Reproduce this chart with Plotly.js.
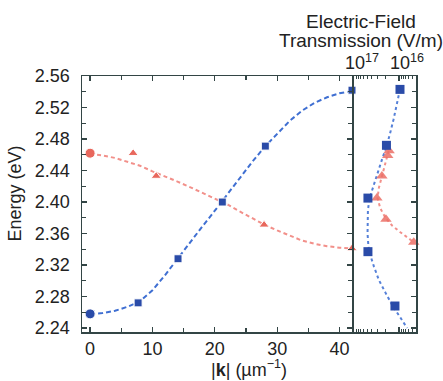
<!DOCTYPE html>
<html><head><meta charset="utf-8">
<script src="https://cdn.plot.ly/plotly-3.0.1.min.js"></script>
<style>html,body{margin:0;padding:0;background:#fff;}#chart{width:443px;height:381px;}</style>
</head><body><div id="chart"></div>
<script>
// Main panel: measured dispersion
const blueK = [0, 7.7, 14.1, 21.2, 28.1, 42];
const blueE = [2.258, 2.272, 2.328, 2.400, 2.471, 2.542];
const redK = [0, 6.9, 10.6, 21.2, 27.9, 42];
const redE = [2.462, 2.462, 2.433, 2.400, 2.371, 2.341];
// Main panel: fitted curves
const fitK = [0,2,4,6,8,10,12,14,16,18,20,22,24,26,28,30,32,34,36,38,40,42];
const blueFitE = [2.258,2.259,2.262,2.267,2.274,2.288,2.307,2.328,2.348,2.369,2.389,2.410,2.430,2.451,2.470,2.487,2.503,2.516,2.526,2.533,2.538,2.541];
const redFitE = [2.461,2.459,2.456,2.451,2.446,2.439,2.433,2.426,2.419,2.412,2.405,2.397,2.388,2.379,2.371,2.364,2.357,2.351,2.347,2.344,2.342,2.341];
// Right panel: electric-field transmission (V/m)
const blueTE = [2.543, 2.472, 2.405, 2.337, 2.268];
const blueT = [9.5e15, 1.9e16, 4.9e16, 4.9e16, 1.23e16];
const redTE = [2.465, 2.459, 2.433, 2.405, 2.378, 2.349];
const redT = [1.66e16, 1.78e16, 2.4e16, 3.1e16, 1.95e16, 4.7e15];
const blueCurveE = [2.543,2.525,2.505,2.489,2.472,2.452,2.437,2.422,2.405,2.390,2.375,2.360,2.345,2.337,2.318,2.301,2.285,2.268,2.254,2.240];
const blueCurveT = [9.5e15,1.1e16,1.32e16,1.55e16,1.86e16,2.45e16,3.0e16,3.7e16,4.5e16,4.9e16,5.0e16,5.0e16,4.8e16,4.6e16,3.6e16,2.8e16,2.0e16,1.38e16,9.5e15,6.6e15];
const redCurveE = [2.465,2.450,2.433,2.418,2.405,2.392,2.380,2.370,2.362,2.355,2.349];
const redCurveT = [1.7e16,2.0e16,2.4e16,2.8e16,3.0e16,2.6e16,2.0e16,1.41e16,9.5e15,6.6e15,4.7e15];
const tTickVals = [1e16, 1e17];
const tTickText = ['10<sup>16</sup>', '10<sup>17</sup>'];
const tMinorVals = [5e15,6e15,7e15,8e15,9e15,2e16,3e16,4e16,5e16,6e16,7e16,8e16,9e16];

const BLUE = '#2a4ba8', BLUEL = '#3f6fd2', RED = '#e8675c', REDL = '#f2908a';
const AX = '#334545';
const F = 'Liberation Sans, Arial, sans-serif';

const traces = [
  {x: fitK, y: redFitE, mode: 'lines', line: {color: REDL, width: 2, dash: '4px,3px'}, xaxis: 'x', yaxis: 'y', hoverinfo: 'skip'},
  {x: fitK, y: blueFitE, mode: 'lines', line: {color: BLUEL, width: 2, dash: '5px,3px'}, xaxis: 'x', yaxis: 'y', hoverinfo: 'skip'},
  {x: redK, y: redE, mode: 'markers', cliponaxis: false,
   marker: {symbol: ['circle','triangle-up','triangle-up','triangle-up','triangle-up','triangle-up'], size: [10,9,9,9,9,9], color: RED, opacity: 1}, xaxis: 'x', yaxis: 'y'},
  {x: blueK, y: blueE, mode: 'markers', cliponaxis: false,
   marker: {symbol: ['circle','square','square','square','square','square'], size: [10,8,8,8,8,8], color: BLUE, opacity: 1}, xaxis: 'x', yaxis: 'y'},
  {x: redCurveT, y: redCurveE, mode: 'lines', line: {color: REDL, width: 2, dash: 'dot'}, xaxis: 'x2', yaxis: 'y2'},
  {x: blueCurveT, y: blueCurveE, mode: 'lines', line: {color: '#5580d8', width: 2, dash: 'dot'}, xaxis: 'x2', yaxis: 'y2'},
  {x: redT, y: redTE, mode: 'markers', cliponaxis: false, opacity: 0.85,
   marker: {symbol: 'triangle-up', size: 10, color: '#ec6f66'}, xaxis: 'x2', yaxis: 'y2'},
  {x: blueT, y: blueTE, mode: 'markers', cliponaxis: false,
   marker: {symbol: 'square', size: 9, color: BLUE}, xaxis: 'x2', yaxis: 'y2'}
];

const layout = {
  width: 443, height: 381,
  margin: {l: 82, r: 27, t: 76, b: 49},
  paper_bgcolor: '#fff', plot_bgcolor: '#fff',
  showlegend: false,
  font: {family: F, size: 18, color: '#222'},
  xaxis: {domain: [0, 0.8084], range: [-1.3, 42], anchor: 'y',
    showline: true, linecolor: AX, linewidth: 1.5, mirror: 'ticks',
    ticks: 'inside', ticklen: 5, tickwidth: 1.3, tickcolor: AX,
    tickmode: 'array', tickvals: [0,10,20,30,40], ticktext: ['0','10','20','30','40'],
    minor: {dtick: 5, tick0: 0, ticks: 'inside', ticklen: 4, tickcolor: AX, tickwidth: 1.2},
    showgrid: false, zeroline: false, tickfont: {size: 18, color: '#222'}, ticklabelstandoff: 0},
  yaxis: {domain: [0, 1], range: [2.235, 2.56], anchor: 'x',
    showline: true, linecolor: AX, linewidth: 1.5, mirror: 'ticks',
    ticks: 'inside', ticklen: 5, tickwidth: 1.3, tickcolor: AX,
    tickmode: 'array', tickvals: [2.24,2.28,2.32,2.36,2.40,2.44,2.48,2.52,2.56],
    ticktext: ['2.24','2.28','2.32','2.36','2.40','2.44','2.48','2.52','2.56'],
    minor: {dtick: 0.02, tick0: 2.24, ticks: 'inside', ticklen: 4, tickcolor: AX, tickwidth: 1.2},
    showgrid: false, zeroline: false, tickfont: {size: 18, color: '#222'}, ticklabelstandoff: 7},
  xaxis2: {domain: [0.8114, 1], type: 'log', range: [17.022, 15.622], anchor: 'y2', side: 'top',
    showline: true, linecolor: AX, linewidth: 1.5, mirror: 'ticks',
    ticks: 'inside', ticklen: 5, tickwidth: 1.3, tickcolor: AX,
    tickmode: 'array', tickvals: tTickVals, ticktext: tTickText,
    minor: {tickmode: 'array', tickvals: tMinorVals, ticks: 'inside', ticklen: 3, tickcolor: AX, tickwidth: 1},
    showgrid: false, zeroline: false, tickfont: {size: 18, color: '#222'}, ticklabelstandoff: -2, ticklabelshift: -8},
  yaxis2: {domain: [0, 1], range: [2.235, 2.56], anchor: 'x2', side: 'right',
    showline: true, linecolor: AX, linewidth: 1.5, mirror: true,
    ticks: 'inside', ticklen: 5, tickwidth: 1.3, tickcolor: AX, showticklabels: false,
    tickmode: 'array', tickvals: [2.24,2.28,2.32,2.36,2.40,2.44,2.48,2.52,2.56],
    minor: {dtick: 0.02, tick0: 2.24, ticks: 'inside', ticklen: 4, tickcolor: AX, tickwidth: 1.2},
    showgrid: false, zeroline: false},
  annotations: [
    {text: '|<b>k</b>| (µm<sup>−1</sup>)', xref: 'paper', yref: 'paper', x: 0.5, y: -0.141,
     xanchor: 'center', yanchor: 'middle', showarrow: false, font: {size: 18, color: '#222'}},
    {text: 'Energy (eV)', xref: 'paper', yref: 'paper', x: -0.2006, y: 0.541, textangle: -90,
     xanchor: 'center', yanchor: 'middle', showarrow: false, font: {size: 18, color: '#222'}},
    {text: 'Electric-Field', xref: 'paper', yref: 'paper', x: 0.835, y: 1.212,
     xanchor: 'center', yanchor: 'middle', showarrow: false, font: {size: 19, color: '#222'}},
    {text: 'Transmission (V/m)', xref: 'paper', yref: 'paper', x: 0.835, y: 1.137,
     xanchor: 'center', yanchor: 'middle', showarrow: false, font: {size: 19, color: '#222'}}
  ]
};
Plotly.newPlot('chart', traces, layout, {displayModeBar: false, staticPlot: true});
</script></body></html>
